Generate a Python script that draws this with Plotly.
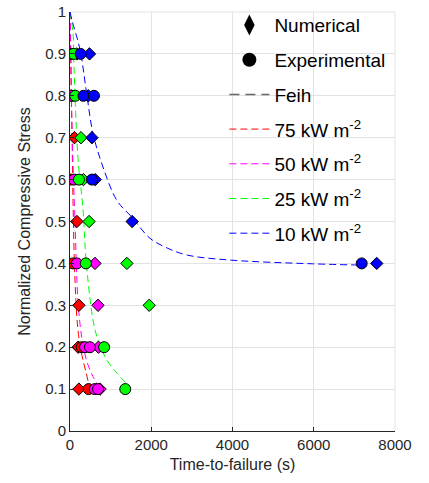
import plotly.graph_objects as go

# Flux levels and colours
flux_labels = ["75 kW m<sup>-2</sup>", "50 kW m<sup>-2</sup>", "25 kW m<sup>-2</sup>", "10 kW m<sup>-2</sup>"]
flux_colors = ["#FF0000", "#FF00FF", "#00FF00", "#0000FF"]

# Numerical time-to-failure (s) vs normalized stress
num_s_75 = [0.7, 0.5, 0.3, 0.2, 0.1]
num_t_75 = [110, 170, 220, 200, 220]
num_s_50 = [0.4, 0.3, 0.2, 0.1]
num_t_50 = [615, 690, 700, 740]
num_s_25 = [0.9, 0.7, 0.6, 0.5, 0.4, 0.3]
num_t_25 = [170, 270, 330, 470, 1400, 1950]
num_s_10 = [0.9, 0.8, 0.7, 0.6, 0.5, 0.4]
num_t_10 = [480, 450, 540, 620, 1530, 7550]

# Experimental time-to-failure (s)
exp_s_75 = [0.9, 0.8, 0.6, 0.4, 0.2, 0.1]
exp_t_75 = [15, 10, 10, 75, 290, 460]
exp_s_50 = [0.9, 0.8, 0.6, 0.4, 0.2, 0.2, 0.1, 0.1]
exp_t_50 = [20, 50, 100, 170, 370, 490, 610, 690]
exp_s_25 = [0.9, 0.8, 0.6, 0.4, 0.2, 0.1]
exp_t_25 = [90, 130, 220, 390, 840, 1360]
exp_s_10 = [0.9, 0.8, 0.8, 0.6, 0.4]
exp_t_10 = [260, 330, 590, 540, 7180]

# Feih model curves
feih_t_75 = [0, 25, 49, 74, 123, 197, 295, 394, 443]
feih_s_75 = [1.0, 0.84, 0.72, 0.55, 0.36, 0.24, 0.18, 0.14, 0.12]
feih_t_50 = [0, 25, 49, 123, 197, 295, 418, 566, 689]
feih_s_50 = [1.0, 0.885, 0.72, 0.5, 0.31, 0.22, 0.165, 0.13, 0.11]
feih_t_25 = [0, 74, 98, 197, 320, 394, 566, 689, 910, 1156, 1402]
feih_s_25 = [1.0, 0.95, 0.87, 0.65, 0.53, 0.41, 0.265, 0.217, 0.169, 0.138, 0.112]
feih_t_10 = [0, 50, 246, 418, 566, 812, 1156, 1525, 1968, 2386, 2878, 3936, 5978, 7180]
feih_s_10 = [1.0, 0.98, 0.91, 0.80, 0.71, 0.63, 0.55, 0.51, 0.46, 0.437, 0.42, 0.408, 0.399, 0.396]

num_series = [(num_t_75, num_s_75), (num_t_50, num_s_50), (num_t_25, num_s_25), (num_t_10, num_s_10)]
exp_series = [(exp_t_75, exp_s_75), (exp_t_50, exp_s_50), (exp_t_25, exp_s_25), (exp_t_10, exp_s_10)]
feih_series = [(feih_t_75, feih_s_75), (feih_t_50, feih_s_50), (feih_t_25, feih_s_25), (feih_t_10, feih_s_10)]

x_ticks = [0, 2000, 4000, 6000, 8000]
y_ticks = [0, 0.1, 0.2, 0.3, 0.4, 0.5, 0.6, 0.7, 0.8, 0.9, 1]
y_tick_text = ["0", "0.1", "0.2", "0.3", "0.4", "0.5", "0.6", "0.7", "0.8", "0.9", "1"]

font_family = "Liberation Sans, Arial, sans-serif"
dash_pattern = "7px,4px"
grid_color = "#e3e3e3"

fig = go.Figure()

# Legend-only entries
fig.add_trace(go.Scatter(x=[None], y=[None], mode="markers", name="Numerical",
                         marker=dict(symbol="diamond-tall", size=15, color="black"),
                         legendgroup="a"))
fig.add_trace(go.Scatter(x=[None], y=[None], mode="markers", name="Experimental",
                         marker=dict(symbol="circle", size=14, color="black"),
                         legendgroup="b"))
fig.add_trace(go.Scatter(x=[None], y=[None], mode="lines", name="Feih",
                         line=dict(color="#666666", width=1.5, dash="10px,6px"),
                         legendgroup="c"))

# Model curves
for i, (t, s) in enumerate(feih_series):
    fig.add_trace(go.Scatter(x=t, y=s, mode="lines", name=flux_labels[i],
                             line=dict(color=flux_colors[i], width=1, dash=dash_pattern, shape="spline"),
                             legendgroup="d%d" % i))

# Markers: numerical then experimental for each flux
for i in range(4):
    t, s = num_series[i]
    fig.add_trace(go.Scatter(x=t, y=s, mode="markers", showlegend=False,
                             marker=dict(symbol="diamond", size=9.5, color=flux_colors[i],
                                         line=dict(color="black", width=1))))
    t, s = exp_series[i]
    fig.add_trace(go.Scatter(x=t, y=s, mode="markers", showlegend=False,
                             marker=dict(symbol="circle", size=11, color=flux_colors[i],
                                         line=dict(color="black", width=1))))

axis_common = dict(
    showgrid=True, gridcolor=grid_color, gridwidth=1,
    showline=True, linecolor="#262626", linewidth=1,
    ticks="inside", ticklen=4, tickcolor="#262626",
    zeroline=False, automargin=False,
    tickfont=dict(size=15, color="#262626", family=font_family),
)

# Light frame along the top and right edges
frame = [
    dict(type="line", xref="paper", yref="paper", x0=0, x1=1, y0=1, y1=1,
         line=dict(color=grid_color, width=1), layer="below"),
    dict(type="line", xref="paper", yref="paper", x0=1, x1=1, y0=0, y1=1,
         line=dict(color=grid_color, width=1), layer="below"),
]

fig.update_layout(
    width=429, height=483,
    margin=dict(l=70, r=34, t=12, b=52, autoexpand=False),
    paper_bgcolor="white", plot_bgcolor="white",
    font=dict(family=font_family, color="#262626"),
    xaxis=dict(range=[0, 8000], tickvals=x_ticks, ticktext=[str(v) for v in x_ticks],
               title=dict(text="Time-to-failure (s)", font=dict(size=16), standoff=6),
               **axis_common),
    yaxis=dict(range=[0, 1], tickvals=y_ticks, ticktext=y_tick_text,
               title=dict(text="Normalized Compressive Stress", font=dict(size=16), standoff=10),
               **axis_common),
    legend=dict(x=0.475, y=1.014, xanchor="left", yanchor="top",
                bgcolor="rgba(0,0,0,0)", borderwidth=0,
                font=dict(size=19, color="black", family=font_family),
                traceorder="grouped", tracegroupgap=7, itemwidth=40,
                maxheight=420),
    shapes=frame,
    showlegend=True,
)

fig.write_html("out.html")
